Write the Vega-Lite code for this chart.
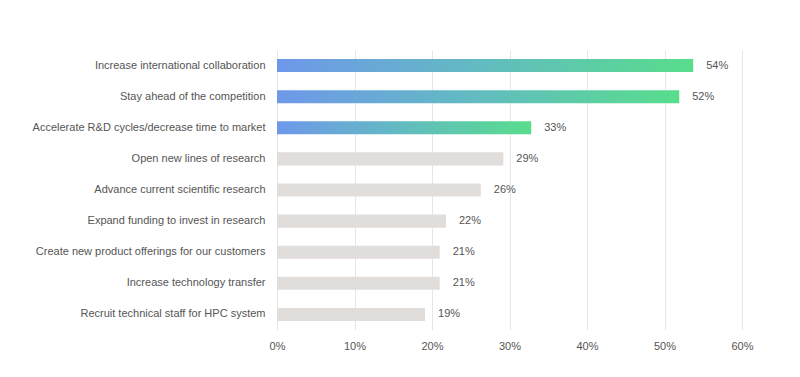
{
  "$schema": "https://vega.github.io/schema/vega-lite/v6.json",
  "autosize": "none",
  "width": 465,
  "height": 280,
  "padding": {"left": 277, "top": 50, "right": 58, "bottom": 47},
  "background": "white",
  "config": {
    "font": "Liberation Sans",
    "view": {"stroke": null},
    "axis": {"labelColor": "#555555", "labelFontSize": 11, "domain": false, "ticks": false}
  },
  "data": {
    "values": [
      {"cat": "Increase international collaboration", "v": 0.537, "label": "54%", "top": true},
      {"cat": "Stay ahead of the competition", "v": 0.519, "label": "52%", "top": true},
      {"cat": "Accelerate R&D cycles/decrease time to market", "v": 0.328, "label": "33%", "top": true},
      {"cat": "Open new lines of research", "v": 0.292, "label": "29%", "top": false},
      {"cat": "Advance current scientific research", "v": 0.263, "label": "26%", "top": false},
      {"cat": "Expand funding to invest in research", "v": 0.218, "label": "22%", "top": false},
      {"cat": "Create new product offerings for our customers", "v": 0.21, "label": "21%", "top": false},
      {"cat": "Increase technology transfer", "v": 0.21, "label": "21%", "top": false},
      {"cat": "Recruit technical staff for HPC system", "v": 0.191, "label": "19%", "top": false}
    ]
  },
  "encoding": {
    "y": {"field": "cat", "type": "nominal", "title": null,
          "scale": {"paddingInner": 0.58, "paddingOuter": 0.29,
            "domain": ["Increase international collaboration", "Stay ahead of the competition", "Accelerate R&D cycles/decrease time to market", "Open new lines of research", "Advance current scientific research", "Expand funding to invest in research", "Create new product offerings for our customers", "Increase technology transfer", "Recruit technical staff for HPC system"]},
          "axis": {"labelPadding": 12, "grid": false, "labelLimit": 400}},
    "x": {"field": "v", "type": "quantitative", "title": null,
          "scale": {"domain": [0, 0.6], "nice": false},
          "axis": {"format": ".0%", "values": [0, 0.1, 0.2, 0.3, 0.4, 0.5, 0.6], "grid": true, "gridColor": "#e6e6e6", "labelPadding": 10, "labelFlush": false}}
  },
  "layer": [
    {
      "transform": [{"filter": "!datum.top"}],
      "mark": {"type": "bar", "color": "#e1dddb"}
    },
    {
      "transform": [{"filter": "datum.top"}],
      "mark": {"type": "bar", "color": {"gradient": "linear", "x1": 0, "y1": 0, "x2": 1, "y2": 0,
        "stops": [{"offset": 0, "color": "#6e98ea"}, {"offset": 0.5, "color": "#62bcc0"}, {"offset": 1, "color": "#58dd8c"}]}}
    },
    {
      "mark": {"type": "text", "align": "left", "dx": 13, "fontSize": 11, "color": "#555555"},
      "encoding": {"text": {"field": "label"}}
    }
  ]
}
